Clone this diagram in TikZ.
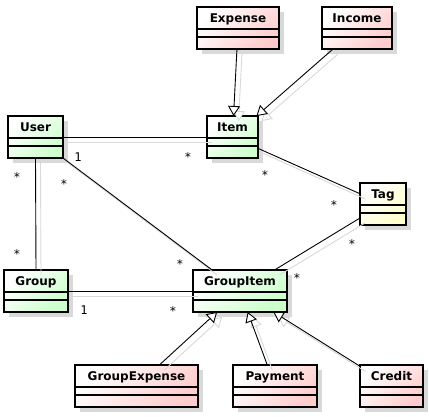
\documentclass[tikz,border=0pt]{standalone}
\usepackage{fontspec}
\setmainfont{DejaVu Sans}
\newfontfamily\multfont{DejaVu Sans Mono}
\usetikzlibrary{arrows.meta,shadows}

\definecolor{classgreen}{HTML}{CCFFCC}
\definecolor{classpink}{HTML}{FFCCCC}
\definecolor{classyellow}{HTML}{FFFFCC}
\definecolor{shadowgray}{HTML}{D9D9D9}

\tikzset{
  umlclass/.style={draw, line width=1.8pt, outer sep=0pt, inner xsep=0pt, inner ysep=0pt,
    text height=15.5pt, text depth=26.5pt,
    font=\fontsize{12}{14}\selectfont\bfseries,
    top color=white, bottom color=#1, shading angle=45,
    drop shadow={shadow xshift=5pt, shadow yshift=-5pt, fill=shadowgray, opacity=1}},
  complines/.style={line width=1.4pt},
  mult/.style={font=\multfont\fontsize{12}{14}\selectfont, inner sep=0pt},
  assoc/.style={line width=0.9pt,
    preaction={draw=shadowgray, line width=0.9pt, transform canvas={xshift=5pt, yshift=-5pt}}},
  inherit/.style={assoc, -{Triangle[open, length=10pt, width=12pt, fill=white]}}
}

% two empty compartments below the class name
\newcommand{\compartments}[1]{%
  \draw[complines] ([yshift=-22pt]#1.north west) -- ([yshift=-22pt]#1.north east);
  \draw[complines] ([yshift=-30pt]#1.north west) -- ([yshift=-30pt]#1.north east);}

\begin{document}
\begin{tikzpicture}[x=1pt,y=-1pt]
  \useasboundingbox (0,0) rectangle (429,417);
  % ---- classes ----
  \node[umlclass=classpink,   minimum width=82pt]  (Expense)      at (238,28)    {Expense};
  \node[umlclass=classpink,   minimum width=70pt]  (Income)       at (357,28)    {Income};
  \node[umlclass=classgreen,  minimum width=55pt]  (User)         at (35.5,137)  {User};
  \node[umlclass=classgreen,  minimum width=51pt]  (Item)         at (232.5,137) {Item};
  \node[umlclass=classyellow, minimum width=46pt]  (Tag)          at (383,204)   {Tag};
  \node[umlclass=classgreen,  minimum width=64pt]  (Group)        at (36,291)    {Group};
  \node[umlclass=classgreen,  minimum width=94pt]  (GroupItem)    at (240,291)   {GroupItem};
  \node[umlclass=classpink,   minimum width=123pt] (GroupExpense) at (136.5,386) {GroupExpense};
  \node[umlclass=classpink,   minimum width=84pt]  (Payment)      at (275,386)   {Payment};
  \node[umlclass=classpink,   minimum width=63pt]  (Credit)       at (391.5,386) {Credit};
  \foreach \c in {Expense,Income,User,Item,Tag,Group,GroupItem,GroupExpense,Payment,Credit}
    \compartments{\c}
  % ---- associations ----
  \draw[assoc] (User.east) -- (Item.west);
  \draw[assoc] (User.south) -- (Group.north);
  \draw[assoc] (User.south east) -- (GroupItem);
  \draw[assoc] (Item) -- (Tag);
  \draw[assoc] (Tag) -- (GroupItem);
  \draw[assoc] (Group.east) -- (GroupItem.west);
  % ---- generalisations ----
  \draw[inherit] (Expense) -- (Item);
  \draw[inherit] (Income) -- (Item);
  \draw[inherit] (GroupExpense) -- (GroupItem);
  \draw[inherit] (Payment) -- (GroupItem);
  \draw[inherit] (Credit) -- (GroupItem);
  % ---- multiplicities ----
  \node[mult] (mUserItemA)  at (78,157)  {1};
  \node[mult] (mUserItemB)  at (188,157) {*};
  \node[mult] (mUserGroupA) at (17,177)  {*};
  \node[mult] (mUserGroupB) at (17,254)  {*};
  \node[mult] (mUserGIA)    at (64,184)  {*};
  \node[mult] (mUserGIB)    at (180,264) {*};
  \node[mult] (mItemTagA)   at (265,175) {*};
  \node[mult] (mItemTagB)   at (334,205) {*};
  \node[mult] (mTagGIA)     at (352,244) {*};
  \node[mult] (mTagGIB)     at (297,278) {*};
  \node[mult] (mGroupGIA)   at (84,310)  {1};
  \node[mult] (mGroupGIB)   at (173,311) {*};
\end{tikzpicture}
\end{document}
